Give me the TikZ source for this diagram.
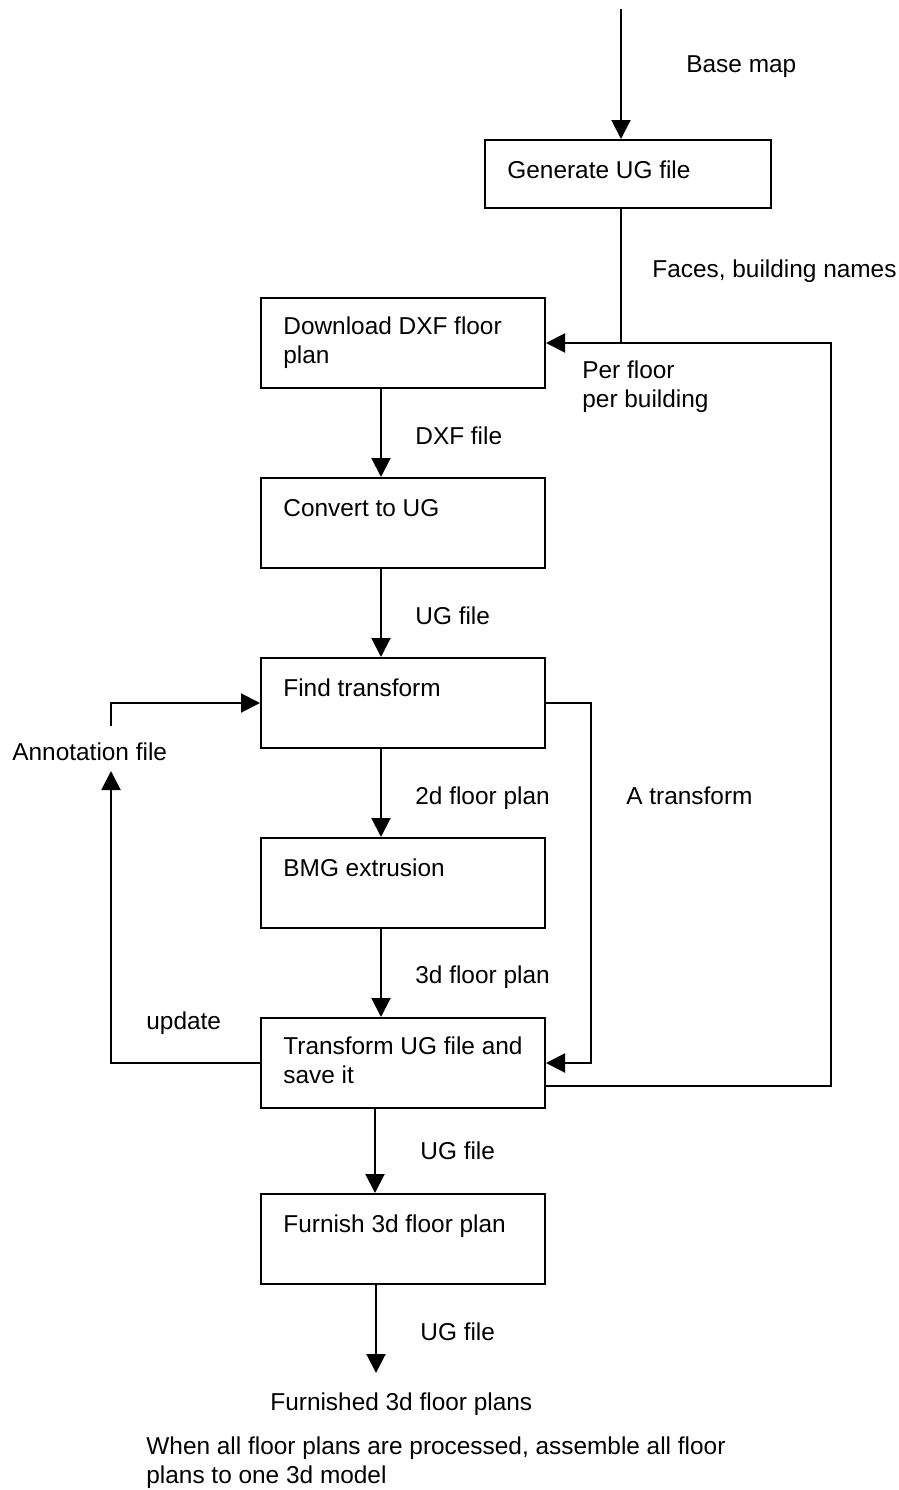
\documentclass[tikz,border=0pt]{standalone}
\usepackage{fontspec}
\setmainfont{Liberation Sans}
\usetikzlibrary{arrows.meta}
\begin{document}
\begin{tikzpicture}[x=0.5pt,y=-0.5pt,
  box/.style={draw,line width=1pt,inner sep=0pt,minimum width=142pt,minimum height=45pt},
  txt/.style={anchor=base west,inner sep=0pt,font=\fontsize{12.2}{14.7}\selectfont},
  conn/.style={line width=1pt},
  arr/.style={conn,-{Triangle[length=9.5pt,width=9.5pt]}}]
\useasboundingbox (0,0) rectangle (899,1490);

% boxes
\node[box,minimum width=143pt,minimum height=34pt] (gen) at (628,174) {};
\node[box] (dl)    at (403,343) {};
\node[box] (conv)  at (403,523) {};
\node[box] (find)  at (403,703) {};
\node[box] (bmg)   at (403,883) {};
\node[box] (trans) at (403,1063) {};
\node[box] (furn)  at (403,1239) {};

% box texts
\node[txt] (tgen)   at (507,178) {Generate UG file};
\node[txt] (tdl)    at (283,334) {\begin{tabular}[t]{@{}l@{}}Download DXF floor\\plan\end{tabular}};
\node[txt] (tconv)  at (283,516) {Convert to UG};
\node[txt] (tfind)  at (283,696) {Find transform};
\node[txt] (tbmg)   at (283,876) {BMG extrusion};
\node[txt] (ttrans) at (283,1054) {\begin{tabular}[t]{@{}l@{}}Transform UG file and\\save it\end{tabular}};
\node[txt] (tfurn)  at (283,1232) {Furnish 3d floor plan};

% labels
\node[txt] (lbase)  at (686,72) {Base map};
\node[txt] (lfaces) at (652,277) {Faces, building names};
\node[txt] (lper)   at (582,378) {\begin{tabular}[t]{@{}l@{}}Per floor\\per building\end{tabular}};
\node[txt] (ldxf)   at (415,444) {DXF file};
\node[txt] (lug1)   at (415,624) {UG file};
\node[txt] (lann)   at (12,760) {Annotation file};
\node[txt] (l2d)    at (415,804) {2d floor plan};
\node[txt] (lat)    at (626,804) {A transform};
\node[txt] (l3d)    at (415,983) {3d floor plan};
\node[txt] (lupd)   at (146,1029) {update};
\node[txt] (lug2)   at (420,1159) {UG file};
\node[txt] (lug3)   at (420,1340) {UG file};
\node[txt] (lfurn)  at (270,1410) {Furnished 3d floor plans};
\node[txt] (lwhen)  at (146,1454) {\begin{tabular}[t]{@{}l@{}}When all floor plans are processed, assemble all floor\\plans to one 3d model\end{tabular}};

% free ends
\coordinate (top) at (621,9);
\coordinate (rloop) at (831,1086);
\coordinate (tfx) at (591,0);
\coordinate (a1) at (111,726);
\coordinate (a2) at (111,771);
\coordinate (fin) at (376,1373);

% connectors
\draw[arr] (top) -- (top |- gen.north);
\draw[arr] (top |- gen.south) -- (top |- dl.east) -- (dl.east);
\draw[conn] (trans.east |- rloop) -- (rloop) -- (rloop |- dl.east) -- (top |- dl.east);
\draw[arr] ([xshift=-11pt]dl.south) -- ([xshift=-11pt]conv.north);
\draw[arr] ([xshift=-11pt]conv.south) -- ([xshift=-11pt]find.north);
\draw[arr] ([xshift=-11pt]find.south) -- ([xshift=-11pt]bmg.north);
\draw[arr] ([xshift=-11pt]bmg.south) -- ([xshift=-11pt]trans.north);
\draw[arr] (find.east) -- (tfx |- find.east) -- (tfx |- trans.east) -- (trans.east);
\draw[arr] (a1) |- (find.west);
\draw[arr] (trans.west) -| (a2);
\draw[arr] ([xshift=-14pt]trans.south) -- ([xshift=-14pt]furn.north);
\draw[arr] ([xshift=-13.5pt]furn.south) -- (fin);
\end{tikzpicture}
\end{document}
